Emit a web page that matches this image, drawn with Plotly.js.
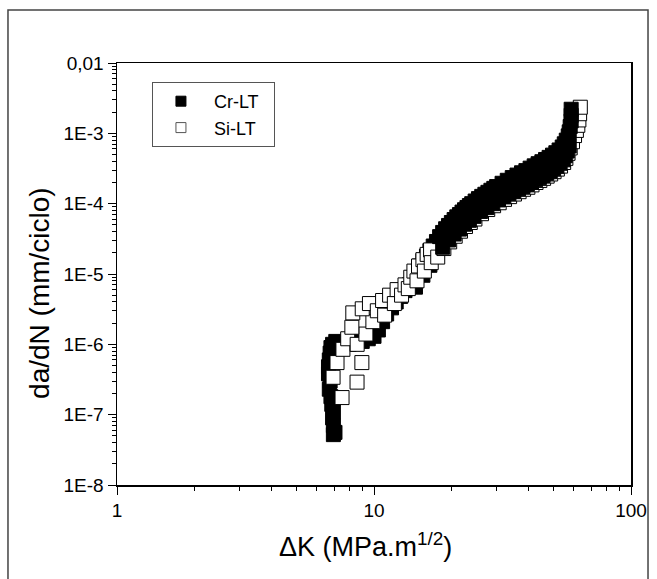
<!DOCTYPE html>
<html>
<head>
<meta charset="utf-8">
<script src="https://cdn.plot.ly/plotly-3.0.1.min.js"></script>
<style>
  html, body { margin: 0; padding: 0; background: #fff; }
  #chart { width: 657px; height: 579px; }
</style>
</head>
<body>
<div id="chart"></div>
<script>
// ---- Data ----
const seriesNames = ["Cr-LT", "Si-LT"];

// Cr-LT : filled squares
const crDK = [
  6.95, 7.05, 6.95, 6.9, 6.95, 6.85, 6.8, 6.7, 6.75, 6.65, 6.65, 6.7, 6.75, 6.8, 6.9,
  7.1, 7.5, 8.0, 8.5, 9.0, 9.5, 10.0, 10.4, 10.8, 11.2, 11.7, 12.2, 12.7, 13.2, 13.7,
  14.0, 14.5, 15.0, 15.5, 16.0, 16.5, 17.0, 17.5, 18.0, 18.5, 19.0, 19.5, 20.0, 20.5, 21.0,
  21.5, 22.0, 22.5, 23.0, 23.5, 24.0, 24.75, 25.5, 26.25, 27.0, 27.75, 28.5, 29.25, 30.0,
  31.5, 33.0, 34.5, 36.0, 37.5, 39.0, 40.5, 42.0, 43.5, 45.0, 46.5, 48.0, 49.5, 51.0, 52.5,
  54.0, 55.0, 56.0, 57.0, 57.5, 58.0, 58.5, 58.5, 58.5,
  14.5, 15.5, 16.5, 17.5, 18.5, 19.5, 20.5, 21.5, 22.5, 23.5, 24.5, 26.0, 27.5, 29.0, 30.5,
  32.0, 33.5, 35.0, 36.5, 38.0, 39.5, 41.0, 42.5, 44.0, 45.5, 47.0, 48.5, 50.0, 51.5, 53.0,
  54.5, 55.5, 56.5, 57.5];
const crDadN = [
  5.2e-8, 5.6e-8, 7.0e-8, 9.0e-8, 1.1e-7, 1.4e-7, 1.8e-7, 2.3e-7, 3.0e-7, 3.8e-7, 4.8e-7, 6.0e-7, 7.5e-7, 9.0e-7, 1.0e-6,
  1.1e-6, 1.0e-6, 1.0e-6, 1.05e-6, 1.1e-6, 1.2e-6, 1.3e-6, 1.6e-6, 2.1e-6, 2.7e-6, 3.3e-6, 4.0e-6, 4.8e-6, 5.8e-6, 7.0e-6,
  8.5e-6, 1.05e-5, 1.3e-5, 1.55e-5, 1.8e-5, 2.15e-5, 2.5e-5, 2.9e-5, 3.4e-5, 3.9e-5, 4.4e-5, 4.9e-5, 5.4e-5, 5.95e-5, 6.5e-5,
  7.0e-5, 7.6e-5, 8.2e-5, 8.8e-5, 9.4e-5, 1.0e-4, 1.09e-4, 1.18e-4, 1.27e-4, 1.36e-4, 1.45e-4, 1.55e-4, 1.65e-4, 1.75e-4,
  1.95e-4, 2.15e-4, 2.35e-4, 2.55e-4, 2.75e-4, 2.95e-4, 3.2e-4, 3.45e-4, 3.7e-4, 3.95e-4, 4.25e-4, 4.55e-4, 4.9e-4, 5.3e-4, 5.8e-4,
  6.4e-4, 7.1e-4, 8.0e-4, 9.2e-4, 1.05e-3, 1.25e-3, 1.5e-3, 1.8e-3, 2.2e-3,
  6.5e-6, 9.6e-6, 1.33e-5, 1.8e-5, 2.4e-5, 3.05e-5, 3.7e-5, 4.35e-5, 5.1e-5, 5.8e-5, 6.6e-5, 7.75e-5, 8.8e-5, 1.0e-4, 1.13e-4,
  1.25e-4, 1.38e-4, 1.5e-4, 1.62e-4, 1.75e-4, 1.88e-4, 2.03e-4, 2.19e-4, 2.34e-4, 2.51e-4, 2.7e-4, 2.9e-4, 3.12e-4, 3.4e-4, 3.75e-4,
  4.2e-4, 4.8e-4, 5.6e-4, 6.6e-4];

// Si-LT : open squares
const siDK = [
  7.51, 6.93, 7.18, 8.59, 8.97, 7.57, 7.9, 8.6, 9.3, 8.2, 8.27, 9.9, 9.0, 9.6, 10.3, 10.8, 11.0, 11.5, 12.0, 12.3,
  12.8, 13.2, 13.6, 13.9, 14.3, 14.9, 15.5, 16.1, 16.6,
  14.7, 15.7, 16.7, 17.7, 18.7, 19.7, 20.7, 21.7, 22.7, 23.7, 24.7, 26.2, 27.7, 29.2, 30.7, 32.2, 33.7, 35.2, 36.7, 38.2,
  39.7, 41.2, 42.7, 44.2, 45.7, 47.2, 48.7, 50.2, 51.7, 53.2, 54.7, 55.8, 56.9, 58.0,
  59.2, 60.3, 61.3, 62.1, 62.7, 63.1, 63.5];
const siDadN = [
  1.75e-7, 3.4e-7, 5.5e-7, 2.9e-7, 5.5e-7, 8.5e-7, 1.2e-6, 1.0e-6, 1.4e-6, 1.75e-6, 2.8e-6, 2.1e-6, 3.2e-6, 3.8e-6, 3.0e-6, 4.2e-6, 2.6e-6, 5.0e-6, 3.8e-6, 6.0e-6,
  5.0e-6, 7.0e-6, 6.2e-6, 9.0e-6, 1.1e-5, 1.3e-5, 1.6e-5, 1.9e-5, 2.2e-5,
  8.0e-6, 1.1e-5, 1.45e-5, 1.74e-5, 2.3e-5, 2.86e-5, 3.44e-5, 4.06e-5, 4.73e-5, 5.4e-5, 6.05e-5, 7.2e-5, 8.25e-5, 9.35e-5, 1.03e-4, 1.15e-4, 1.26e-4, 1.37e-4, 1.48e-4, 1.6e-4,
  1.71e-4, 1.85e-4, 2.0e-4, 2.14e-4, 2.29e-4, 2.46e-4, 2.64e-4, 2.85e-4, 3.1e-4, 3.42e-4, 3.85e-4, 4.4e-4, 5.2e-4, 6.2e-4,
  7.6e-4, 9.3e-4, 1.1e-3, 1.3e-3, 1.55e-3, 1.9e-3, 2.35e-3];

const xTickVals = [1, 10, 100];
const xTickText = ["1", "10", "100"];
const yTickVals = [1e-8, 1e-7, 1e-6, 1e-5, 1e-4, 1e-3, 1e-2];
const yTickText = ["1E-8", "1E-7", "1E-6", "1E-5", "1E-4", "1E-3", "0,01"];
const xTitle = "ΔK (MPa.m<sup>1/2</sup>)";
const yTitle = "da/dN (mm/ciclo)";

const FONT = "Liberation Sans, Arial, sans-serif";
const SPLIT = 18; // low-ΔK black points lie under the open squares, high-ΔK black points above them

function pick(xs, ys, test) {
  const ox = [], oy = [];
  xs.forEach((v, i) => { if (test(v)) { ox.push(v); oy.push(ys[i]); } });
  return { x: ox, y: oy };
}
const crLow = pick(crDK, crDadN, v => v < SPLIT);
const crHigh = pick(crDK, crDadN, v => v >= SPLIT);

const crMarker = { symbol: "square", size: 14, color: "#000", line: { color: "#000", width: 1 } };
const siMarker = { symbol: "square", size: 14, color: "#fff", line: { color: "#000", width: 1 } };
const padL = "\u00a0", padR = "\u00a0\u00a0";

const traces = [
  { x: crLow.x, y: crLow.y, mode: "markers", type: "scatter", showlegend: false, marker: crMarker },
  { x: siDK, y: siDadN, mode: "markers", type: "scatter", showlegend: false, marker: siMarker },
  { x: crHigh.x, y: crHigh.y, mode: "markers", type: "scatter", showlegend: false, marker: crMarker },
  { x: [null], y: [null], mode: "markers", type: "scatter", name: padL + seriesNames[0] + padR,
    marker: { symbol: "square", size: 10, color: "#000", line: { color: "#000", width: 1 } } },
  { x: [null], y: [null], mode: "markers", type: "scatter", name: padL + seriesNames[1] + padR,
    marker: { symbol: "square", size: 10, color: "#fff", line: { color: "#555", width: 1 } } }
];

const axisCommon = {
  type: "log", showgrid: false, zeroline: false,
  showline: true, linecolor: "#000", linewidth: 1.5, mirror: true,
  ticks: "outside", ticklen: 8, tickwidth: 1, tickcolor: "#000",
  tickmode: "array",
  tickfont: { family: FONT, size: 19, color: "#000" },
  minor: { ticks: "outside", ticklen: 4, tickwidth: 1, tickcolor: "#000", dtick: "D1", showgrid: false }
};

const layout = {
  width: 657, height: 579,
  margin: { l: 117, r: 26, t: 63, b: 94 },
  paper_bgcolor: "#fff", plot_bgcolor: "#fff",
  showlegend: true,
  legend: {
    x: 0.068, y: 0.955, xanchor: "left", yanchor: "top",
    bordercolor: "#555", borderwidth: 1, bgcolor: "#fff",
    itemwidth: 46,
    font: { family: FONT, size: 18, color: "#000" }
  },
  xaxis: Object.assign({}, axisCommon, { range: [0, 2], tickvals: xTickVals, ticktext: xTickText }),
  yaxis: Object.assign({}, axisCommon, { range: [-8, -2], tickvals: yTickVals, ticktext: yTickText }),
  annotations: [
    { text: xTitle, xref: "paper", yref: "paper", x: 0.484, y: -0.142, xanchor: "center", yanchor: "middle",
      showarrow: false, font: { family: FONT, size: 27, color: "#000" } },
    { text: yTitle, xref: "paper", yref: "paper", x: -0.15, y: 0.455, xanchor: "center", yanchor: "middle",
      textangle: -90, showarrow: false, font: { family: FONT, size: 28, color: "#000" } }
  ],
  shapes: [
    { type: "rect", xref: "paper", yref: "paper", x0: -0.2121, x1: 1.0331, y0: -0.225, y1: 1.1256,
      line: { color: "#444", width: 1.5 }, fillcolor: "rgba(0,0,0,0)", layer: "below" }
  ]
};

Plotly.newPlot("chart", traces, layout, { displayModeBar: false, staticPlot: true });
</script>
</body>
</html>
